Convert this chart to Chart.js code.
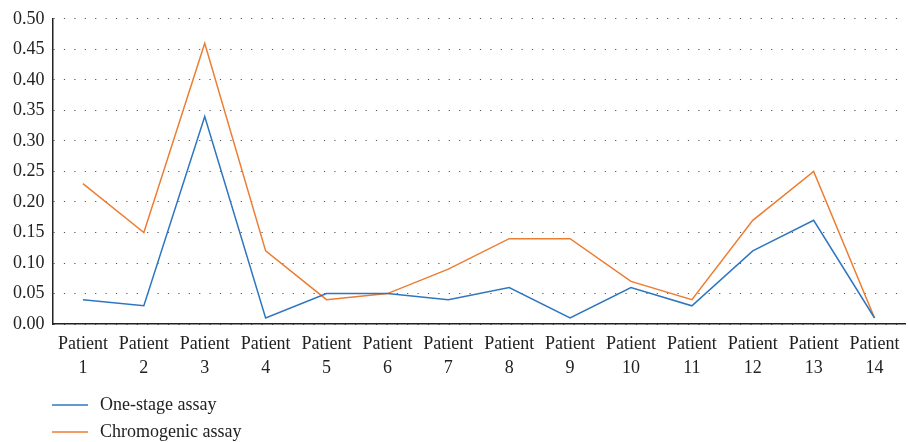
<!DOCTYPE html>
<html><head><meta charset="utf-8">
<script src="https://cdn.jsdelivr.net/npm/chart.js@4"></script>
<style>html,body{margin:0;padding:0;background:#fff}#wrap{width:908px;height:442px}</style>
</head><body><div id="wrap"><canvas id="c" width="908" height="442"></canvas></div>
<script>
const categories = ['1','2','3','4','5','6','7','8','9','10','11','12','13','14'];
const seriesNames = ['One-stage assay','Chromogenic assay'];
const oneStage = [0.04,0.03,0.34,0.01,0.05,0.05,0.04,0.06,0.01,0.06,0.03,0.12,0.17,0.01];
const chromogenic = [0.23,0.15,0.46,0.12,0.04,0.05,0.09,0.14,0.14,0.07,0.04,0.17,0.25,0.01];
const yTicks = {min:0,max:0.5,step:0.05};
const colors = ['#2f76c0','#ed7d31'];
const FONT = "'Liberation Serif', 'DejaVu Serif', serif";

const legendPlugin = {
  id:'vlegend',
  afterDraw(chart){
    const ctx = chart.ctx;
    ctx.save();
    ctx.font = '18px ' + FONT;
    ctx.textBaseline = 'middle';
    chart.data.datasets.forEach((ds,i)=>{
      const y = 405 + i*27;
      ctx.strokeStyle = ds.borderColor;
      ctx.lineWidth = 1.5;
      ctx.beginPath(); ctx.moveTo(52,y); ctx.lineTo(88,y); ctx.stroke();
      ctx.fillStyle = '#222';
      ctx.fillText(ds.label, 100, y);
    });
    ctx.restore();
  }
};

new Chart(document.getElementById('c'), {
  type:'line',
  data:{
    labels: categories.map(n=>['Patient', n]),
    datasets:[
      {label:seriesNames[0], data:oneStage, borderColor:colors[0], backgroundColor:colors[0], borderWidth:1.5, pointRadius:0, tension:0, fill:false},
      {label:seriesNames[1], data:chromogenic, borderColor:colors[1], backgroundColor:colors[1], borderWidth:1.5, pointRadius:0, tension:0, fill:false}
    ]
  },
  options:{
    responsive:false, animation:false,
    layout:{padding:{left:5,right:3,top:5,bottom:54}},
    plugins:{legend:{display:false}, tooltip:{enabled:false}},
    scales:{
      x:{
        offset:true,
        grid:{display:false, drawTicks:false},
        border:{display:true, color:'#222', width:1.5},
        ticks:{color:'#222', font:{family:FONT,size:18,lineHeight:1.33}, maxRotation:0, autoSkip:false, padding:8}
      },
      y:{
        min:yTicks.min, max:yTicks.max,
        grid:{color:'#555', lineWidth:1, drawTicks:false},
        border:{display:true, color:'#222', width:1.5, dash:[1.2,9.2]},
        ticks:{stepSize:yTicks.step, color:'#222', font:{family:FONT,size:18}, padding:8, callback:v=>v.toFixed(2)}
      }
    }
  },
  plugins:[legendPlugin]
});
</script></body></html>
